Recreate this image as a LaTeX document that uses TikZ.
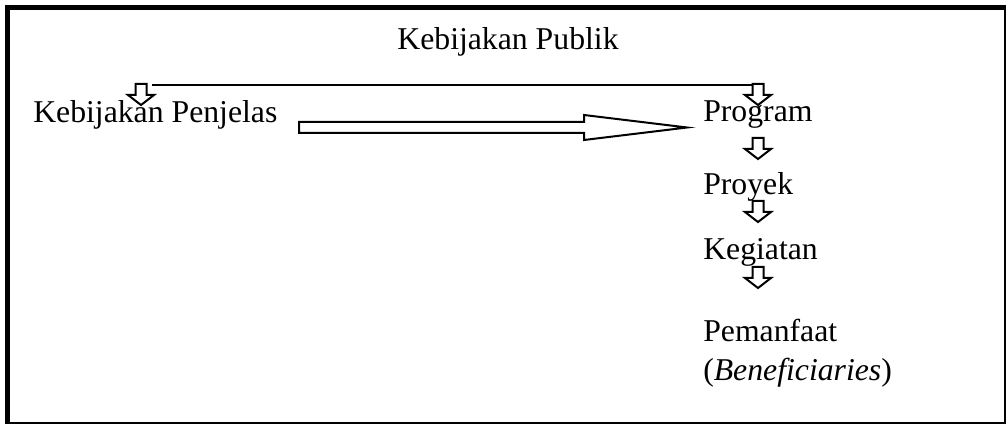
\documentclass[tikz,border=0pt]{standalone}
\usepackage{fontspec}
\setmainfont{Liberation Serif}
\begin{document}
\begin{tikzpicture}[x=0.75pt,y=-0.75pt,
  lbl/.style={inner sep=0pt,anchor=base west,font=\fontsize{23.8pt}{28pt}\selectfont},
  blockline/.style={line width=1.5pt,draw=black,fill=white,line join=miter},
  link/.style={line width=1.5pt},
  pics/blockdown/.style={code={
    \draw[blockline] (-5.5,0) -- (5.5,0) -- (5.5,11) -- (13,11) -- (0,21) -- (-13,11) -- (-5.5,11) -- cycle;
  }}]
\useasboundingbox (0,0) rectangle (1008,424);
% frame
\draw[line width=3.75pt] (5,7.5) -- (1006,7.5);
\draw[line width=3.75pt] (7.5,5) -- (7.5,424);
\draw[line width=1.5pt] (1005,5) -- (1005,423);
\draw[line width=1.5pt] (5,422.5) -- (1006,422.5);
% texts
\node[lbl,anchor=base] (pub) at (508,50) {Kebijakan Publik};
\node[lbl] (pen) at (33,123) {Kebijakan Penjelas};
\node[lbl] (prog) at (703,122) {Program};
\node[lbl] (proy) at (703,195) {Proyek};
\node[lbl] (keg) at (703,260) {Kegiatan};
\node[lbl] (pem) at (703,342) {Pemanfaat};
\node[lbl] (ben) at (703,380) {(\textit{Beneficiaries})};
% top link
\coordinate (a1) at (141,84);
\coordinate (a2) at (758,84);
\draw[link] (152,85) -- (752.5,85);
\pic at (a1) {blockdown};
\pic at (a2) {blockdown};
% vertical block arrows
\pic at (758,138) {blockdown};
\pic at (758,201) {blockdown};
\pic at (758,267) {blockdown};
% big arrow
\draw[blockline] (299,122) -- (584,122) -- (584,115) -- (687,127.5) -- (584,140) -- (584,133) -- (299,133) -- cycle;
\end{tikzpicture}
\end{document}
